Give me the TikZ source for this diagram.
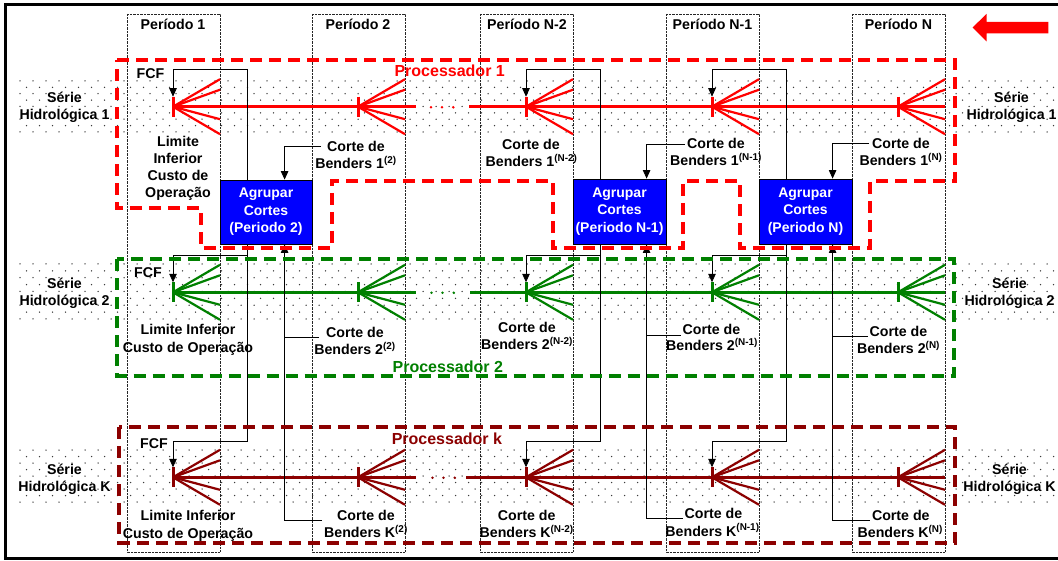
\documentclass[tikz,border=0pt]{standalone}
\usepackage{fontspec}
\setmainfont{Liberation Sans}
\usetikzlibrary{arrows.meta,calc}
\definecolor{pred}{RGB}{255,0,0}
\definecolor{pgreen}{RGB}{0,128,0}
\definecolor{pdark}{RGB}{140,0,0}
\definecolor{pblue}{RGB}{0,0,255}
\definecolor{dotgray}{RGB}{60,60,60}
\tikzset{
  lbl/.style={font=\fontsize{14.2}{17}\selectfont\bfseries, inner sep=0pt, anchor=base},
  plbl/.style={font=\fontsize{16}{19}\selectfont\bfseries, inner sep=0pt, anchor=base},
  colbox/.style={draw=black!85, line width=0.6pt, dash pattern=on 0.7pt off 0.7pt},
  procbox/.style={line width=3.8pt, dash pattern=on 12pt off 7pt},
  conn/.style={draw=black, line width=0.8pt},
  tip/.style={-{Triangle[length=8.5pt,width=7.5pt]}},
  agr/.style={draw=black, line width=0.8pt, fill=pblue, text=white,
    font=\fontsize{14}{17.5}\selectfont\bfseries, align=center, inner sep=0pt},
  mainline/.style={line width=3.3pt},
  fanline/.style={line width=2.2pt},
}
\newcommand\fanat[4]{%
  \coordinate (#1) at (#2,#3);
  \coordinate (#1t) at (#2,#3-10);
  \draw[#4, line width=3pt] (#2,#3-10) -- (#2,#3+10);
  \foreach \d in {-27.5,-17,12.5,27.5} \draw[#4,fanline] (#1) -- ++(47,\d);
  \draw[#4,mainline] (#1) -- ++(47,0);
}
\begin{document}
\begin{tikzpicture}[x=1pt,y=-1pt]
\useasboundingbox (0,0) rectangle (1058,561);
\fill[white] (0,0) rectangle (1058,561);

% dotted bands
\foreach \y/\h in {81/6.375, 264/6.875, 450/6.5} {
  \foreach \r in {0,...,8} {
    \pgfmathsetmacro\yy{\y+\r*\h}
    \pgfmathsetmacro\xo{20+mod(\r,2)*6.5}
    \foreach \x in {0,...,79} { \fill[dotgray] (\xo+\x*13,\yy) circle (0.75pt); }
  }
}

% frame
\draw[line width=3pt] (1058,4.7) -- (5.3,4.7) -- (5.3,558.7) -- (1058,558.7);

% period columns
\draw[colbox] (127,14) rectangle (220,552);
\draw[colbox] (312,14) rectangle (405,552);
\draw[colbox] (480,14) rectangle (573,552);
\draw[colbox] (666,14) rectangle (759,552);
\draw[colbox] (852,14) rectangle (945,552);

% headers
\node[lbl] (h1) at (173,29.5) {Período 1};
\node[lbl] (h2) at (358,29.5) {Período 2};
\node[lbl] (h3) at (527,29.5) {Período N-2};
\node[lbl] (h4) at (712.5,29.5) {Período N-1};
\node[lbl] (h5) at (898.5,29.5) {Período N};

% direction arrow
\fill[pred] (972.7,27.5) -- (986.5,13.8) -- (986.5,21.8) -- (1048.3,21.8) -- (1048.3,33.3)
  -- (986.5,33.3) -- (986.5,41.5) -- cycle;

% blue boxes
\node[agr, minimum width=92pt, minimum height=64pt] (g2) at (266,212) {Agrupar\\Cortes\\(Periodo 2)};
\node[agr, minimum width=93pt, minimum height=65pt] (gN1) at (619.5,211.5) {Agrupar\\Cortes\\(Periodo N-1)};
\node[agr, minimum width=93pt, minimum height=65pt] (gN) at (805.5,211.5) {Agrupar\\Cortes\\(Periodo N)};

% rows: ticks and fans
\fanat{r1c1}{173}{106.7}{pred}
\fanat{r1c2}{358}{106.7}{pred}
\fanat{r1c3}{526}{106.7}{pred}
\fanat{r1c4}{712}{106.7}{pred}
\fanat{r1c5}{898}{106.7}{pred}
\fanat{r2c1}{173}{292.3}{pgreen}
\fanat{r2c2}{358}{292.3}{pgreen}
\fanat{r2c3}{526}{292.3}{pgreen}
\fanat{r2c4}{712}{292.3}{pgreen}
\fanat{r2c5}{898}{292.3}{pgreen}
\fanat{rKc1}{173}{477.3}{pdark}
\fanat{rKc2}{358}{477.3}{pdark}
\fanat{rKc3}{526}{477.3}{pdark}
\fanat{rKc4}{712}{477.3}{pdark}
\fanat{rKc5}{898}{477.3}{pdark}

% main lines with gap
\coordinate (r1e) at (416,106.7); \coordinate (r1s) at (469,106.7);
\coordinate (r2e) at (416,292.3); \coordinate (r2s) at (470,292.3);
\coordinate (rKe) at (416,477.3); \coordinate (rKs) at (466,477.3);
\draw[pred,mainline] (r1c1) -- (r1e); \draw[pred,mainline] (r1s) -- (r1c5);
\draw[pgreen,mainline] (r2c1) -- (r2e); \draw[pgreen,mainline] (r2s) -- (r2c5);
\draw[pdark,mainline] (rKc1) -- (rKe); \draw[pdark,mainline] (rKs) -- (rKc5);
\foreach \x in {431,442,453.3} {
  \fill[pred] (\x,107.3) circle (1.4pt);
  \fill[pgreen] (\x+0.5,292.8) circle (1.4pt);
  \fill[pdark] (\x+1.5,477.8) circle (1.4pt);
}

% labels row 1
\node[lbl] (s1La) at (64.5,102.5) {Série};
\node[lbl] (s1Lb) at (64.5,120) {Hidrológica 1};
\node[lbl] (s1Ra) at (1011.5,102.5) {Série};
\node[lbl] (s1Rb) at (1011.5,120) {Hidrológica 1};
\node[lbl] (f1) at (150.5,79) {FCF};
\node[lbl] (l1a) at (178,146.5) {Limite};
\node[lbl] (l1b) at (178,163.5) {Inferior};
\node[lbl] (l1c) at (178,180.5) {Custo de};
\node[lbl] (l1d) at (178,197.5) {Operação};
\node[lbl] (c12a) at (356,151.5) {Corte de};
\node[lbl] (c12b) at (356,168.3) {Benders 1\textsuperscript{(2)}};
\node[lbl] (c13a) at (531,149.3) {Corte de};
\node[lbl] (c13b) at (531.5,166.5) {Benders 1\textsuperscript{(N-2)}};
\node[lbl] (c14a) at (716,149) {Corte de};
\node[lbl] (c14b) at (716,166) {Benders 1\textsuperscript{(N-1)}};
\node[lbl] (c15a) at (901,148.5) {Corte de};
\node[lbl] (c15b) at (901,165.5) {Benders 1\textsuperscript{(N)}};
\node[plbl, text=pred] (p1) at (449.7,76.5) {Processador 1};

% labels row 2
\node[lbl] (s2La) at (64.5,288.3) {Série};
\node[lbl] (s2Lb) at (64.5,305.7) {Hidrológica 2};
\node[lbl] (s2Ra) at (1009.5,288.3) {Série};
\node[lbl] (s2Rb) at (1009.5,305.7) {Hidrológica 2};
\node[lbl] (f2) at (148,277.7) {FCF};
\node[lbl] (l2a) at (188,335) {Limite Inferior};
\node[lbl] (l2b) at (188,352.3) {Custo de Operação};
\node[lbl] (c22a) at (355,337.7) {Corte de};
\node[lbl] (c22b) at (355,354.3) {Benders 2\textsuperscript{(2)}};
\node[lbl] (c23a) at (527,332.7) {Corte de};
\node[lbl] (c23b) at (527,349.3) {Benders 2\textsuperscript{(N-2)}};
\node[lbl] (c24a) at (711.5,335) {Corte de};
\node[lbl] (c24b) at (712,351) {Benders 2\textsuperscript{(N-1)}};
\node[lbl] (c25a) at (898.5,336.7) {Corte de};
\node[lbl] (c25b) at (898.5,354) {Benders 2\textsuperscript{(N)}};
\node[plbl, text=pgreen] (p2) at (447.8,372.5) {Processador 2};

% labels row K
\node[lbl] (sKLa) at (64.5,474.3) {Série};
\node[lbl] (sKLb) at (64.5,491) {Hidrológica K};
\node[lbl] (sKRa) at (1009.5,474.3) {Série};
\node[lbl] (sKRb) at (1009.5,491) {Hidrológica K};
\node[lbl] (fK) at (154,448) {FCF};
\node[lbl] (lKa) at (188,520) {Limite Inferior};
\node[lbl] (lKb) at (188,538.3) {Custo de Operação};
\node[lbl] (cK2a) at (366,520) {Corte de};
\node[lbl] (cK2b) at (366,537.7) {Benders K\textsuperscript{(2)}};
\node[lbl] (cK3a) at (526.7,520) {Corte de};
\node[lbl] (cK3b) at (526.7,537.7) {Benders K\textsuperscript{(N-2)}};
\node[lbl] (cK4a) at (713.5,518.3) {Corte de};
\node[lbl] (cK4b) at (712.5,536) {Benders K\textsuperscript{(N-1)}};
\node[lbl] (cK5a) at (900.8,520) {Corte de};
\node[lbl] (cK5b) at (900.3,537.7) {Benders K\textsuperscript{(N)}};
\node[plbl, text=pdark] (pK) at (446.9,444.8) {Processador k};

% connector helper coordinates
\coordinate (top) at (0,69);
\coordinate (mid2) at (0,255);
\coordinate (lowK) at (0,441);
\coordinate (g2up) at ($(g2.north west)+(28,0)$);
\coordinate (g2dn) at ($(g2.south west)+(28,0)$);
\coordinate (g2in) at ($(g2.north west)+(65,0)$);
\coordinate (g2inb) at ($(g2.south west)+(65,0)$);
\coordinate (gN1up) at ($(gN1.north west)+(28,0)$);
\coordinate (gN1dn) at ($(gN1.south west)+(28,0)$);
\coordinate (gN1in) at ($(gN1.north west)+(74,0)$);
\coordinate (gN1inb) at ($(gN1.south west)+(74,0)$);
\coordinate (gNup) at ($(gN.north west)+(28,0)$);
\coordinate (gNdn) at ($(gN.south west)+(28,0)$);
\coordinate (gNin) at ($(gN.north west)+(74,0)$);
\coordinate (gNinb) at ($(gN.south west)+(74,0)$);

% connectors: box Periodo 2
\draw[conn,tip] (g2up) -- (g2up |- top) -| (r1c1t);
\draw[conn,tip] (g2dn) -- (g2dn |- lowK) -| (rKc1t);
\draw[conn,tip] (g2dn |- mid2) -| (r2c1t);
\draw[conn,tip] ([xshift=-6pt]c12a.west) -| (g2in);
\draw[conn,tip] ([xshift=-15pt]cK2a.base west) -| (g2inb);
\draw[conn] ([xshift=-7pt]c22a.base west) -- (c22a.base west -| g2inb);

% connectors: box Periodo N-1
\draw[conn,tip] (gN1up) -- (gN1up |- top) -| (r1c3t);
\draw[conn,tip] (gN1dn) -- (gN1dn |- lowK) -| (rKc3t);
\draw[conn,tip] (gN1dn |- mid2) -| (r2c3t);
\draw[conn,tip] ([xshift=-2pt]c14a.west) -| (gN1in);
\draw[conn,tip] ([xshift=-2pt]cK4a.base west) -| (gN1inb);
\draw[conn] ([xshift=-2pt]c24a.base west) -- (c24a.base west -| gN1inb);

% connectors: box Periodo N
\draw[conn,tip] (gNup) -- (gNup |- top) -| (r1c4t);
\draw[conn,tip] (gNdn) -- (gNdn |- lowK) -| (rKc4t);
\draw[conn,tip] (gNdn |- mid2) -| (r2c4t);
\draw[conn,tip] ([xshift=-3pt]c15a.west) -| (gNin);
\draw[conn,tip] ([xshift=-2pt]cK5a.base west) -| (gNinb);
\draw[conn] ([xshift=-2pt]c25a.base west) -- (c25a.base west -| gNinb);

% processor boxes
\draw[pred,procbox] (117,60) -- (955,60) -- (955,181) -- (870,181) -- (870,248) -- (740,248)
  -- (740,181) -- (683,181) -- (683,248) -- (553,248) -- (553,181) -- (332,181) -- (332,248)
  -- (201,248) -- (201,208) -- (117,208) -- cycle;
\draw[pgreen,procbox] (117,259.3) rectangle (954,375.7);
\draw[pdark,procbox] (119.3,427.3) rectangle (955,542.7);
\end{tikzpicture}
\end{document}
